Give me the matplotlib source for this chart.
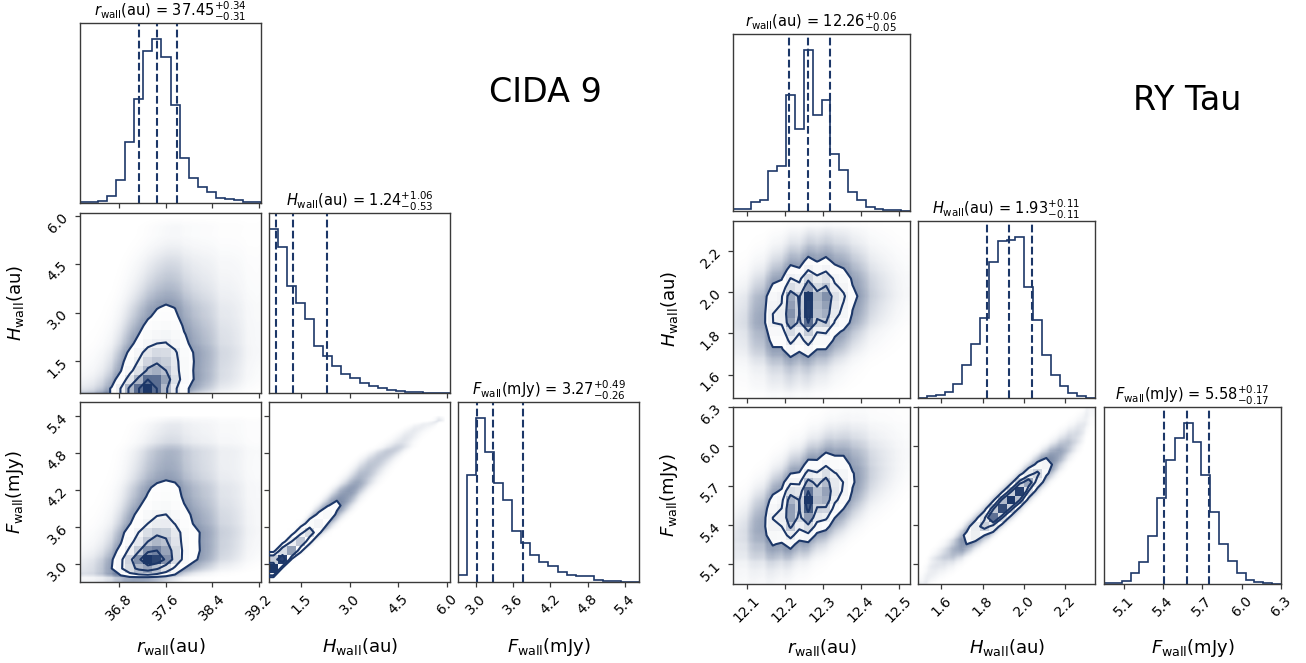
import numpy as np
import matplotlib
matplotlib.use("Agg")
import matplotlib.pyplot as plt
from matplotlib.colors import LinearSegmentedColormap, to_rgba
from matplotlib.ticker import FixedLocator, FormatStrFormatter, NullLocator
from statistics import NormalDist

# ---------------------------------------------------------------- data
labels = [r"$r_{\rm wall}$(au)", r"$H_{\rm wall}$(au)", r"$F_{\rm wall}$(mJy)"]

# CIDA 9 posterior
cida_ranges = [(36.12, 39.24), (0.50, 6.10), (2.71, 5.63)]
cida_r_counts = [2, 3, 7, 20, 70, 182, 312, 455, 490, 437, 293, 135, 75, 48, 32, 14, 12, 8, 3, 2]
cida_h_counts = [491, 438, 321, 270, 221, 142, 110, 81, 58, 46, 30, 20, 14, 10, 7, 4, 2, 1, 1, 0]
cida_f_counts = [22, 322, 491, 390, 297, 247, 154, 117, 82, 59, 49, 29, 22, 19, 17, 6, 4, 3, 0, 0]
cida_median = [37.45, 1.24, 3.27]
cida_err_hi = [0.34, 1.06, 0.49]
cida_err_lo = [0.31, 0.53, 0.26]
cida_rho = [0.35, 0.35, 0.987]          # (r,H), (r,F), (H,F)
cida_ticks = [[36.8, 37.6, 38.4, 39.2], [1.5, 3.0, 4.5, 6.0], [3.0, 3.6, 4.2, 4.8, 5.4]]

# RY Tau posterior
rytau_ranges = [(12.063, 12.530), (1.486, 2.346), (4.950, 6.300)]
rytau_r_counts = [5, 7, 27, 34, 122, 137, 350, 247, 485, 288, 336, 173, 124, 56, 32, 12, 7, 4, 2, 1]
rytau_h_counts = [1, 5, 9, 18, 43, 99, 163, 241, 408, 469, 473, 482, 333, 233, 129, 69, 35, 15, 7, 1]
rytau_f_counts = [2, 4, 10, 33, 67, 145, 257, 370, 438, 482, 425, 326, 215, 119, 70, 32, 13, 6, 2, 1]
rytau_median = [12.26, 1.93, 5.58]
rytau_err_hi = [0.06, 0.11, 0.17]
rytau_err_lo = [0.05, 0.11, 0.17]
rytau_rho = [0.22, 0.55, 0.955]
rytau_ticks = [[12.1, 12.2, 12.3, 12.4, 12.5], [1.6, 1.8, 2.0, 2.2], [5.1, 5.4, 5.7, 6.0, 6.3]]

# ---------------------------------------------------------------- style
COLOR = "#1c3768"
SPINE = "#3a3a3a"
W, H = 1306, 663
fig = plt.figure(figsize=(W / 100, H / 100), dpi=100)

_nd = NormalDist()


def marginal(counts, lo, hi):
    counts = np.asarray(counts, float)
    edges = np.linspace(lo, hi, len(counts) + 1)
    width = edges[1] - edges[0]
    pdf = counts / (counts.sum() * width)
    cdf = np.concatenate([[0.0], np.cumsum(counts) / counts.sum()])
    return edges, pdf, cdf


def zscore(u, lim=1e-7):
    u = np.clip(np.asarray(u, float), lim, 1 - lim)
    return np.array([_nd.inv_cdf(float(v)) for v in u])


def copula(a, b, rho):
    A, B = np.meshgrid(a, b, indexing="ij")
    q = (rho ** 2 * (A ** 2 + B ** 2) - 2 * rho * A * B) / (2 * (1 - rho ** 2))
    return np.exp(-q) / np.sqrt(1 - rho ** 2)


def binned_joint(mx, my, rho, nsub=10):
    """Probability mass of the 2-D histogram cells (Gaussian copula joining the marginals)."""
    ex, px, cx = mx
    ey, py, cy = my
    n = len(px)
    t = (np.arange(n * nsub) + 0.5) / (n * nsub)
    xs = ex[0] + t * (ex[-1] - ex[0])
    ys = ey[0] + t * (ey[-1] - ey[0])
    fx = np.repeat(px, nsub)
    fy = np.repeat(py, nsub)
    dens = copula(zscore(np.interp(xs, ex, cx)), zscore(np.interp(ys, ey, cy)), rho)
    dens *= fx[:, None] * fy[None, :]
    Hm = dens.reshape(n, nsub, n, nsub).sum(axis=(1, 3))
    return Hm / Hm.sum()


def smooth_joint(mx, my, rho, npix=260):
    ex, px, cx = mx
    ey, py, cy = my
    t = (np.arange(npix) + 0.5) / npix
    xs = ex[0] + t * (ex[-1] - ex[0])
    ys = ey[0] + t * (ey[-1] - ey[0])
    fx = np.interp(xs, 0.5 * (ex[1:] + ex[:-1]), px)
    fy = np.interp(ys, 0.5 * (ey[1:] + ey[:-1]), py)
    dens = copula(zscore(np.interp(xs, ex, cx), 1e-4),
                  zscore(np.interp(ys, ey, cy), 1e-4), rho)
    dens *= fx[:, None] * fy[None, :]
    return dens / dens.sum()


def contour_levels(Hm):
    levels = 1.0 - np.exp(-0.5 * np.arange(0.5, 2.1, 0.5) ** 2)
    Hflat = np.sort(Hm.flatten())[::-1]
    sm = np.cumsum(Hflat)
    sm /= sm[-1]
    V = np.empty(len(levels))
    for i, v0 in enumerate(levels):
        sel = Hflat[sm <= v0]
        V[i] = sel[-1] if len(sel) else Hflat[0]
    V.sort()
    m = np.diff(V) == 0
    while np.any(m):
        V[np.where(m)[0][0]] *= 1.0 - 1e-4
        m = np.diff(V) == 0
    V.sort()
    return V


def padded(Hm, edges_x, edges_y):
    X1 = 0.5 * (edges_x[1:] + edges_x[:-1])
    Y1 = 0.5 * (edges_y[1:] + edges_y[:-1])
    H2 = Hm.min() + np.zeros((Hm.shape[0] + 4, Hm.shape[1] + 4))
    H2[2:-2, 2:-2] = Hm
    H2[2:-2, 1] = Hm[:, 0]
    H2[2:-2, -2] = Hm[:, -1]
    H2[1, 2:-2] = Hm[0]
    H2[-2, 2:-2] = Hm[-1]
    H2[1, 1] = Hm[0, 0]
    H2[1, -2] = Hm[0, -1]
    H2[-2, 1] = Hm[-1, 0]
    H2[-2, -2] = Hm[-1, -1]
    dx = X1[1] - X1[0]
    dy = Y1[1] - Y1[0]
    X2 = np.concatenate([X1[0] + np.array([-2, -1]) * dx, X1, X1[-1] + np.array([1, 2]) * dx])
    Y2 = np.concatenate([Y1[0] + np.array([-2, -1]) * dy, Y1, Y1[-1] + np.array([1, 2]) * dy])
    return X2, Y2, H2


density_cmap = LinearSegmentedColormap.from_list("density", [COLOR, (1, 1, 1, 0)])
white_cmap = LinearSegmentedColormap.from_list("white", [(1, 1, 1), (1, 1, 1)], N=2)


def style_axes(ax):
    for s in ax.spines.values():
        s.set_color(SPINE)
        s.set_linewidth(1.0)
    ax.tick_params(direction="out", length=3.5, width=0.9, color=SPINE,
                   labelsize=10, top=False, right=False)


def corner(counts, ranges, median, err_hi, err_lo, rho, ticks, col_x, row_y, w, h):
    n = len(counts)
    margs = [marginal(c, *r) for c, r in zip(counts, ranges)]
    pair_index = {(0, 1): 0, (0, 2): 1, (1, 2): 2}
    for i in range(n):
        for j in range(i + 1):
            x0, y0 = col_x[j], row_y[i]
            ax = fig.add_axes([x0 / W, 1 - (y0 + h) / H, w / W, h / H])
            style_axes(ax)
            ax.set_xlim(*ranges[j])
            ax.xaxis.set_major_locator(FixedLocator(ticks[j]))
            ax.xaxis.set_major_formatter(FormatStrFormatter("%.1f"))
            if i == j:
                edges, _, _ = margs[i]
                cnt = np.asarray(counts[i], float)
                ax.stairs(cnt, edges, color=COLOR, lw=1.2)
                ax.set_ylim(0, 1.1 * cnt.max())
                ax.yaxis.set_major_locator(NullLocator())
                for q in (median[i] - err_lo[i], median[i], median[i] + err_hi[i]):
                    ax.axvline(q, ls="dashed", color=COLOR, lw=1.5)
                title = "{0} = ${1:.2f}_{{-{2:.2f}}}^{{+{3:.2f}}}$".format(
                    labels[i], median[i], err_lo[i], err_hi[i])
                ax.set_title(title, fontsize=10.5, pad=5)
            else:
                mx, my = margs[j], margs[i]
                r = rho[pair_index[(j, i)]]
                Hm = binned_joint(mx, my, r)
                V = contour_levels(Hm)
                # faint cloud of posterior samples beyond the outer contour
                fine = smooth_joint(mx, my, r)
                npix = fine.shape[0]
                fine_ratio = fine * (npix / 20.0) ** 2 / V.min()
                alpha = 0.75 * (1 - np.exp(-1.3 * np.power(fine_ratio, 0.85)))
                rgba = np.zeros((npix, npix, 4))
                rgba[..., :3] = to_rgba(COLOR)[:3]
                rgba[..., 3] = alpha.T
                ax.imshow(rgba, origin="lower", aspect="auto", interpolation="bilinear",
                          extent=[*ranges[j], *ranges[i]], zorder=0)
                X2, Y2, H2 = padded(Hm, mx[0], my[0])
                ax.contourf(X2, Y2, H2.T, [V.min(), Hm.max()], cmap=white_cmap,
                            antialiased=False, zorder=1)
                ax.pcolormesh(mx[0], my[0], (Hm.max() - Hm).T, cmap=density_cmap, zorder=2)
                ax.contour(X2, Y2, H2.T, V, colors=COLOR, linewidths=1.5, zorder=3)
                ax.set_xlim(*ranges[j])
                ax.set_ylim(*ranges[i])
                if j == 0:
                    ax.yaxis.set_major_locator(FixedLocator(ticks[i]))
                    ax.yaxis.set_major_formatter(FormatStrFormatter("%.1f"))
                    for lab in ax.get_yticklabels():
                        lab.set_rotation(45)
                    ax.set_ylabel(labels[i], fontsize=13)
                    ax.yaxis.set_label_coords(-0.3, 0.5)
                else:
                    ax.yaxis.set_major_locator(FixedLocator(ticks[i]))
                    ax.set_yticklabels([])
            if i == n - 1:
                for lab in ax.get_xticklabels():
                    lab.set_rotation(45)
                ax.set_xlabel(labels[j], fontsize=13)
                ax.xaxis.set_label_coords(0.5, -0.3)
            else:
                ax.set_xticklabels([])


# CIDA 9 grid
corner([cida_r_counts, cida_h_counts, cida_f_counts], cida_ranges, cida_median,
       cida_err_hi, cida_err_lo, cida_rho, cida_ticks,
       col_x=[80, 269, 458], row_y=[23, 213, 402], w=181, h=180)
fig.text(545 / W, 1 - 92 / H, "CIDA 9", fontsize=24, ha="center", va="center")

# RY Tau grid
corner([rytau_r_counts, rytau_h_counts, rytau_f_counts], rytau_ranges, rytau_median,
       rytau_err_hi, rytau_err_lo, rytau_rho, rytau_ticks,
       col_x=[733, 918, 1104], row_y=[34, 221, 407], w=177, h=177)
fig.text(1187 / W, 1 - 100 / H, "RY Tau", fontsize=24, ha="center", va="center")

fig.savefig("out.png", dpi=100)
